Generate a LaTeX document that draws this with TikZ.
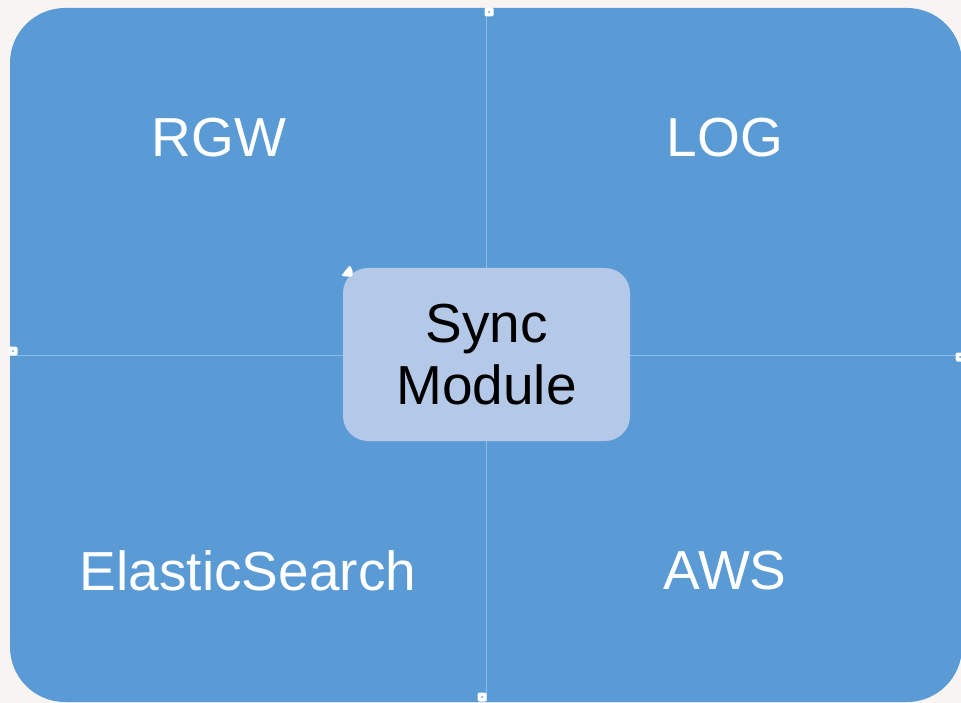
\documentclass[tikz,border=0pt]{standalone}
\usepackage{fontspec}
\setmainfont{Liberation Sans}
\usepackage{tikz}
\usetikzlibrary{positioning}
\definecolor{PageBg}{HTML}{F8F4F2}
\definecolor{PanelBlue}{HTML}{5B9BD5}
\definecolor{SplitBlue}{HTML}{8DBBE6}
\definecolor{SyncFill}{HTML}{B4C9E7}
\tikzset{
  panel/.style={fill=PanelBlue, draw=none, rounded corners=55pt},
  split/.style={draw=SplitBlue, line width=0.8pt},
  quad/.style={text=white, font=\fontsize{55}{62}\selectfont, inner sep=0pt},
  syncbox/.style={fill=SyncFill, rounded corners=25pt, minimum width=287pt, minimum height=173pt,
                  align=center, font=\fontsize{55}{62}\selectfont, text=black},
  grip/.style={fill=white, rounded corners=1.5pt, minimum size=9pt, inner sep=0pt},
  gripdot/.style={fill=PanelBlue, circle, inner sep=0pt, minimum size=2pt}
}

\begin{document}
\begin{tikzpicture}[x=1pt, y=-1pt]
\useasboundingbox[fill=PageBg] (0,0) rectangle (961,703);
\fill[panel] (10,8) rectangle (962,702);
% quadrant split
\coordinate (vtop) at (486,8);
\coordinate (vbot) at (486,702);
\coordinate (hleft) at (10,355);
\coordinate (hright) at (961,355);
\draw[split] (vtop) -- (vbot);
\draw[split] (hleft) -- (hright);
% labels
\node[quad] (rgw) at (219,138) {RGW};
\node[quad] (log) at (725,138) {LOG};
\node[quad] (es) at (248,571) {ElasticSearch};
\node[quad] (aws) at (725,571) {AWS};
\node[syncbox] (sync) at (486.5,354.5) {Sync\\Module};
% selection grips
\node[grip] (gtop) at (489,12) {};
\node[grip] (gleft) at (13,351) {};
\node[grip] (gright) at (960,357) {};
\node[grip] (gbot) at (482,697) {};
\node[gripdot] at (gtop) {};
\node[gripdot] at (gleft) {};
\node[gripdot] at (gright) {};
\node[gripdot] at (gbot) {};
\fill[white, rounded corners=1.5pt] (341,276) -- (350,265) -- (353,272) -- (352,277) -- cycle;
\end{tikzpicture}
\end{document}
